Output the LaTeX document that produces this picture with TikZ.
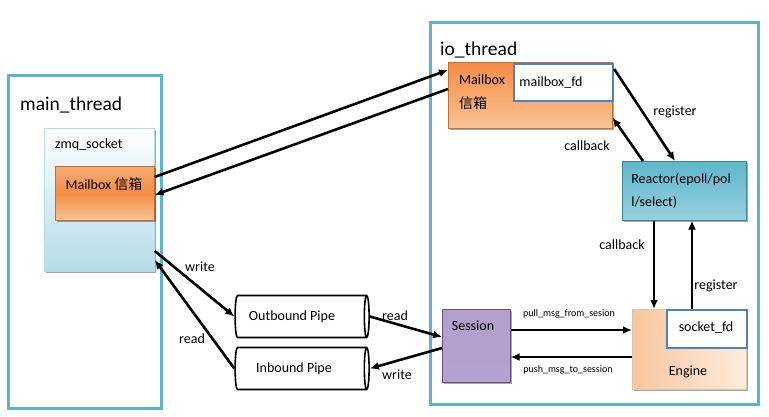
\documentclass[tikz,border=0pt]{standalone}
\usepackage{fontspec}
\setmainfont{Carlito}
\newfontfamily\cjk{Noto Sans CJK SC}
\usetikzlibrary{shapes.geometric,arrows.meta,shadows}
\definecolor{thr}{RGB}{95,178,202}
\definecolor{zmqb}{RGB}{180,220,232}
\definecolor{orA}{RGB}{250,172,115}
\definecolor{orB}{RGB}{244,140,70}
\definecolor{orC}{RGB}{251,195,150}
\definecolor{reA}{RGB}{95,182,204}
\definecolor{reB}{RGB}{72,168,196}
\definecolor{reC}{RGB}{150,208,224}
\definecolor{seA}{RGB}{178,160,204}
\definecolor{seB}{RGB}{128,100,162}
\definecolor{seC}{RGB}{180,162,206}
\definecolor{enA}{RGB}{249,198,158}
\definecolor{enB}{RGB}{253,236,222}
\definecolor{fdb}{RGB}{79,129,189}
\begin{document}
\begin{tikzpicture}[x=1pt,y=-1pt,
  thread/.style={draw=thr, line width=2.6pt, fill=white, anchor=north west, inner sep=0},
  box/.style={anchor=north west, inner sep=0},
  shad/.style={drop shadow={shadow xshift=1.5pt, shadow yshift=-1.5pt, fill=black, opacity=0.35}},
  txt/.style={font=\fontsize{14}{16}\selectfont, inner sep=0},
  big/.style={font=\fontsize{19.5}{22}\selectfont, inner sep=0},
  small/.style={font=\fontsize{10}{12}\selectfont, inner sep=0},
  arr/.style={line width=2.6pt, -{Latex[length=9pt,width=8pt]}},
  pipe/.style={shape=cylinder, draw, line width=1.6pt, fill=white, aspect=0.3, minimum height=134pt, minimum width=42pt, font=\fontsize{14}{16}\selectfont, inner sep=2pt}
]
\useasboundingbox (0,0) rectangle (769,417);

% threads
\node[thread, minimum width=153pt, minimum height=333pt] (main) at (7,74) {};
\node[thread, minimum width=328pt, minimum height=382pt] (io) at (429,21) {};
\node[big, anchor=west] (maint) at (20,105) {main\_thread};
\node[big, anchor=west] (iot) at (440,50) {io\_thread};

% zmq socket
\node[box, draw=zmqb, line width=0.8pt, top color=white, bottom color=zmqb, minimum width=110pt, minimum height=143pt, shad] (zmq) at (44,128) {};
\node[txt, anchor=west] (zmqt) at (55,145) {zmq\_socket};
\node[box, draw=orB!80!black, line width=0.6pt, top color=orA, bottom color=orC, middle color=orB, minimum width=99pt, minimum height=54pt, shad] (mbm) at (55,166) {};
\node[txt] (mbmt) at (104,184) {Mailbox {\cjk 信箱}};

% io mailbox
\node[box, draw=orB!80!black, line width=0.6pt, top color=orB, bottom color=orC, minimum width=164pt, minimum height=66pt, shad] (mbio) at (448,62) {};
\node[txt, anchor=west] (mbiot1) at (459,80) {Mailbox};
\node[txt, anchor=west] (mbiot2) at (459,103) {\cjk 信箱};
\node[box, draw=fdb, line width=2.2pt, fill=white, minimum width=99pt, minimum height=37pt] (mfd) at (513,63) {};
\node[txt] (mfdt) at (551,83) {mailbox\_fd};

% reactor
\node[box, draw=reB!80!black, line width=0.6pt, top color=reA, middle color=reB, bottom color=reC, minimum width=124pt, minimum height=59pt, shad,
      text width=106pt, inner xsep=9pt, align=left, font=\fontsize{14}{23}\selectfont] (rea) at (622,161) {Reactor(epoll/pol\\l/select)};

% engine
\node[box, draw=enA!80!black!60, line width=0.5pt, left color=enA, right color=enB, minimum width=114pt, minimum height=80pt, shad] (eng) at (632,309) {};
\node[txt] (engt) at (688,372) {Engine};
\node[box, draw=fdb, line width=2.2pt, fill=white, minimum width=80pt, minimum height=38pt] (sfd) at (666,309) {};
\node[txt] (sfdt) at (706,328) {socket\_fd};

% session
\node[box, draw=seB!80!black, line width=0.6pt, top color=seA, middle color=seB, bottom color=seC, minimum width=68pt, minimum height=73pt, shad] (ses) at (442,309) {};
\node[txt] (sest) at (473,326) {Session};

% pipes
\node[pipe] (outp) at (300,316.5) {Outbound Pipe\hspace*{16pt}};
\node[pipe] (inp) at (300,368.5) {Inbound Pipe\hspace*{12pt}};

% mailbox connectors
\draw[arr] ([yshift=-11pt]mbm.north east) -- ([yshift=-8pt]mbio.north west);
\draw[arr] ([yshift=-27pt]mbio.north west) -- ([yshift=-29pt]mbm.north east);

% reactor / mailbox
\draw[arr] ([yshift=-6pt]mfd.north east) -- ([xshift=53pt]rea.north west);
\draw[arr] ([xshift=21pt]rea.north west) -- ([yshift=11pt]mbio.south east);
\node[txt] (l1) at (675,112) {register};
\node[txt] (l2) at (587,146) {callback};

% reactor / engine
\draw[arr] ([xshift=32pt]rea.south west) -- ([xshift=22pt]eng.north west);
\draw[arr] ([xshift=26pt]sfd.north west) -- ([xshift=70pt]rea.south west);
\node[txt] (l3) at (622,245) {callback};
\node[txt] (l4) at (716,286) {register};

% session / engine
\draw[arr] ([yshift=-21pt]ses.north east) -- ([yshift=-21pt]eng.north west);
\draw[arr] ([yshift=-48pt]eng.north west) -- ([yshift=-48pt]ses.north east);
\node[small] (l5) at (569,314) {pull\_msg\_from\_sesion};
\node[small] (l6) at (568,370) {push\_msg\_to\_session};

% pipes
\draw[arr] ([yshift=-123pt]zmq.north east) -- (outp.west);
\draw[arr] (inp.west) -- ([yshift=-132pt]zmq.north east);
\node[txt] (l7) at (200,267) {write};
\node[txt] (l8) at (192,339) {read};
\draw[arr] (outp.east) -- ([yshift=-28pt]ses.north west);
\draw[arr] ([yshift=-39pt]ses.north west) -- (inp.east);
\node[txt] (l9) at (395,316) {read};
\node[txt] (l10) at (397,375) {write};
\end{tikzpicture}
\end{document}
